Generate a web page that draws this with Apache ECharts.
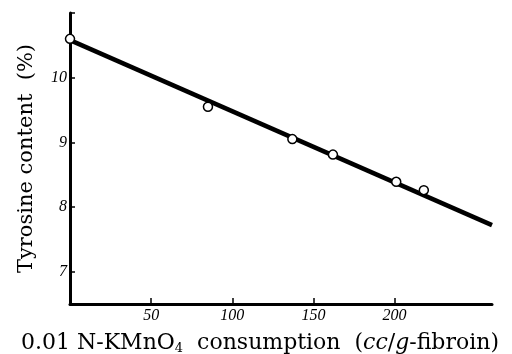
<!DOCTYPE html>
<html>
<head>
<meta charset="utf-8">
<script src="https://cdn.jsdelivr.net/npm/echarts@6/dist/echarts.min.js"></script>
<style>html,body{margin:0;padding:0;background:#fff}</style>
</head>
<body>
<div id="chart" style="width:512px;height:354px"></div>
<script>
// measured points
const consumption = [0, 85, 137, 162, 201, 218]
const tyrosine = [10.6, 9.55, 9.05, 8.81, 8.39, 8.26]
// fitted straight line, two ends
const fitX = [0, 260]
const fitY = [10.58, 7.72]
const xTicks = [50, 100, 150, 200]
const yTicks = [7, 8, 9, 10, 11]
const yLabels = [7, 8, 9, 10]

const myChart = echarts.init(document.getElementById('chart'))
const serif = 'DejaVu Serif'
const tickFont = 'Liberation Serif'
myChart.setOption({
  animation: false,
  backgroundColor: '#ffffff',
  grid: { left: 70, right: 20, top: 13, bottom: 50, outerBoundsMode: 'none' },
  xAxis: {
    type: 'value',
    min: 0,
    max: 260,
    name: '{n|0.01 N-KMnO}{s|4}{n|  consumption  (}{i|cc}{n|/}{i|g}{n|-fibroin)}',
    nameLocation: 'middle',
    nameGap: 27,
    nameTextStyle: {
      padding: [0, 42, 0, 0],
      rich: {
        n: { fontFamily: serif, fontSize: 22, color: '#000' },
        i: { fontFamily: serif, fontSize: 22, fontStyle: 'italic', color: '#000' },
        s: { fontFamily: serif, fontSize: 13, color: '#000', padding: [11, 0, 0, 0] }
      }
    },
    axisLine: { lineStyle: { color: '#000', width: 3 } },
    axisTick: { customValues: xTicks, inside: true, length: 6, lineStyle: { color: '#000', width: 1.5 } },
    axisLabel: {
      customValues: xTicks,
      margin: 4,
      fontFamily: tickFont,
      fontStyle: 'italic',
      fontSize: 16,
      color: '#000'
    },
    splitLine: { show: false }
  },
  yAxis: {
    type: 'value',
    min: 6.5,
    max: 11,
    name: 'Tyrosine content  (%)',
    nameLocation: 'middle',
    nameGap: 33,
    nameRotate: 90,
    nameTextStyle: { fontFamily: serif, fontSize: 21, color: '#000' },
    axisLine: { lineStyle: { color: '#000', width: 3 } },
    axisTick: { customValues: yTicks, inside: true, length: 5, lineStyle: { color: '#000', width: 1.5 } },
    axisLabel: {
      customValues: yLabels,
      margin: 3,
      fontFamily: tickFont,
      fontStyle: 'italic',
      fontSize: 16,
      color: '#000'
    },
    splitLine: { show: false }
  },
  series: [
    {
      name: 'fit',
      type: 'line',
      data: fitX.map((x, i) => [x, fitY[i]]),
      symbol: 'none',
      lineStyle: { color: '#000', width: 4.5 },
      z: 2
    },
    {
      name: 'measured',
      type: 'scatter',
      data: consumption.map((x, i) => [x, tyrosine[i]]),
      symbol: 'circle',
      symbolSize: 9,
      itemStyle: { color: '#fff', opacity: 1, borderColor: '#000', borderWidth: 1.5 },
      z: 3
    }
  ]
})
</script>
</body>
</html>
